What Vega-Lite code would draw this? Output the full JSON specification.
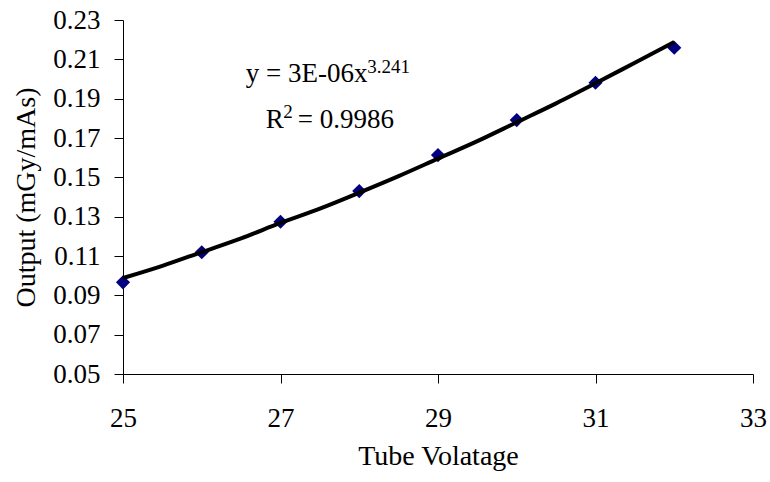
{
  "$schema": "https://vega.github.io/schema/vega-lite/v6.json",
  "width": 630,
  "height": 354,
  "autosize": "none",
  "padding": {"left": 123, "top": 20, "right": 17, "bottom": 108},
  "background": "white",
  "config": {
    "view": {"stroke": null},
    "font": "Liberation Serif",
    "axis": {
      "grid": false,
      "domainColor": "black",
      "tickColor": "black",
      "domainWidth": 1,
      "tickWidth": 1,
      "tickSize": 9,
      "labelFont": "Liberation Serif",
      "titleFont": "Liberation Serif",
      "labelColor": "black",
      "titleColor": "black",
      "labelFontSize": 27,
      "titleFontSize": 28,
      "titleFontWeight": "normal",
      "labelOverlap": false,
      "labelFlush": false
    }
  },
  "datasets": {
    "measured": [
      {"kv": 25, "output": 0.0966},
      {"kv": 26, "output": 0.1119},
      {"kv": 27, "output": 0.1274},
      {"kv": 28, "output": 0.1430},
      {"kv": 29, "output": 0.1613},
      {"kv": 30, "output": 0.1791},
      {"kv": 31, "output": 0.1981},
      {"kv": 32, "output": 0.2159}
    ],
    "trend": [
      {"kv": 25, "output": 0.0988},
      {"kv": 25.5, "output": 0.1050},
      {"kv": 26, "output": 0.1120},
      {"kv": 26.5, "output": 0.1190},
      {"kv": 27, "output": 0.1268},
      {"kv": 27.5, "output": 0.1341},
      {"kv": 28, "output": 0.1422},
      {"kv": 28.5, "output": 0.1506},
      {"kv": 29, "output": 0.1595},
      {"kv": 29.5, "output": 0.1684},
      {"kv": 30, "output": 0.1780},
      {"kv": 30.5, "output": 0.1876},
      {"kv": 31, "output": 0.1978},
      {"kv": 31.5, "output": 0.2083},
      {"kv": 32, "output": 0.2188}
    ],
    "notes": [
      {"kv": 26.558, "output": 0.1986, "label": "y = 3E-06x", "kind": "main"},
      {"kv": 28.101, "output": 0.2030, "label": "3.241", "kind": "sup"},
      {"kv": 26.812, "output": 0.1749, "label": "R", "kind": "main"},
      {"kv": 27.034, "output": 0.1801, "label": "2", "kind": "sup"},
      {"kv": 27.218, "output": 0.1749, "label": "= 0.9986", "kind": "main"}
    ]
  },
  "encoding": {
    "x": {
      "field": "kv", "type": "quantitative",
      "scale": {"domain": [25, 33], "nice": false, "zero": false},
      "axis": {"values": [25, 27, 29, 31, 33], "format": "d", "title": "Tube Volatage", "labelPadding": 22, "titlePadding": 11, "labelOverlap": false}
    },
    "y": {
      "field": "output", "type": "quantitative",
      "scale": {"domain": [0.05, 0.23], "nice": false, "zero": false},
      "axis": {"values": [0.05, 0.07, 0.09, 0.11, 0.13, 0.15, 0.17, 0.19, 0.21, 0.23], "format": ".2f", "title": "Output (mGy/mAs)", "labelPadding": 14, "titlePadding": 12, "labelOverlap": false, "tickCount": 10}
    }
  },
  "layer": [
    {
      "data": {"name": "measured"},
      "mark": {"type": "point", "shape": "diamond", "filled": true, "color": "#000080", "size": 200, "opacity": 1}
    },
    {
      "data": {"name": "trend"},
      "mark": {"type": "line", "color": "black", "strokeWidth": 4, "interpolate": "monotone"}
    },
    {
      "data": {"name": "notes"},
      "transform": [{"filter": "datum.kind === 'main'"}],
      "mark": {"type": "text", "align": "left", "baseline": "alphabetic", "fontSize": 27, "font": "Liberation Serif", "color": "black"},
      "encoding": {"text": {"field": "label"}}
    },
    {
      "data": {"name": "notes"},
      "transform": [{"filter": "datum.kind === 'sup'"}],
      "mark": {"type": "text", "align": "left", "baseline": "alphabetic", "fontSize": 19, "font": "Liberation Serif", "color": "black"},
      "encoding": {"text": {"field": "label"}}
    }
  ]
}
